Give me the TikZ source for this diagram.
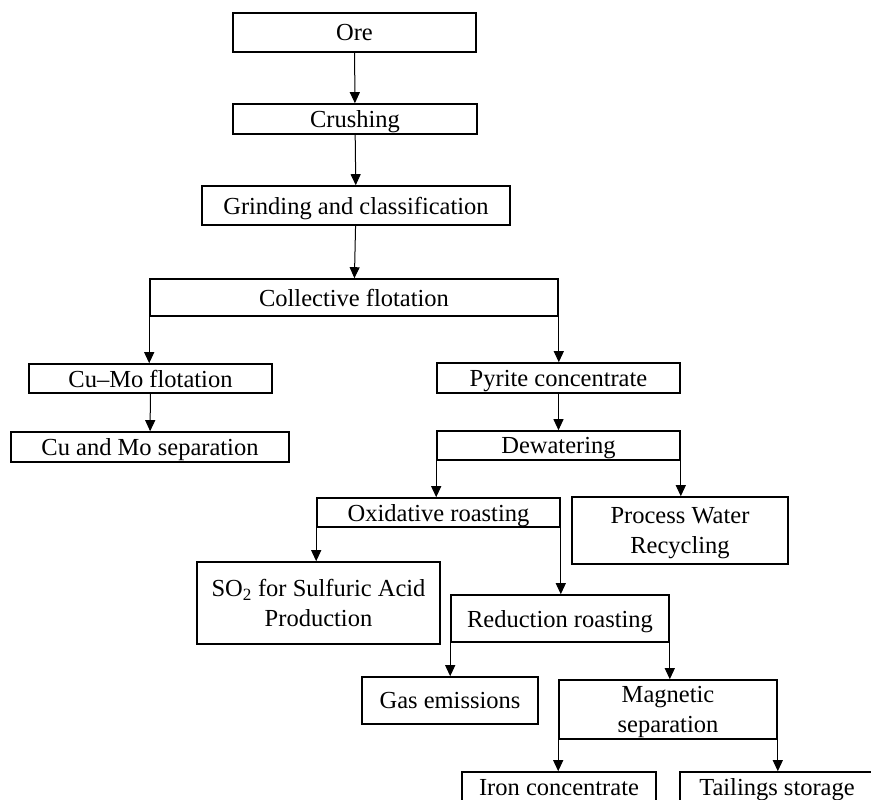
\documentclass[tikz,border=0pt]{standalone}
\usepackage{fontspec}
\setmainfont{Liberation Serif}
\usetikzlibrary{arrows.meta}

\tikzset{box/.style={draw,line width=1.6pt,inner sep=0pt,align=center,text depth=0pt,font=\fontsize{24.5}{30}\selectfont},
flow/.style={line width=1pt,-{Stealth[inset=0pt,length=11pt,width=10pt]}}}

\begin{document}
\begin{tikzpicture}[x=1pt,y=-1pt]
\useasboundingbox(0,0)rectangle(871,800);
\clip(0,0)rectangle(871,800);
\node[box,minimum width=243,minimum height=39](ore)at(354.5,32.5){Ore};
\node[box,minimum width=244,minimum height=30](crush)at(355,119){Crushing};
\node[box,minimum width=308,minimum height=39](grind)at(356,205.5){Grinding and classification};
\node[box,minimum width=408,minimum height=37](coll)at(354,297.5){Collective flotation};
\node[box,minimum width=243,minimum height=29](cumo)at(150.5,378.5){Cu–Mo flotation};
\node[box,minimum width=278,minimum height=30](cusep)at(150,447){Cu and Mo separation};
\node[box,minimum width=243,minimum height=30](pyr)at(558.5,378){Pyrite concentrate};
\node[box,minimum width=243,minimum height=29](dew)at(558.5,445.5){Dewatering};
\node[box,minimum width=243,minimum height=29](oxi)at(438.5,512.5){Oxidative roasting};
\node[box,minimum width=216,minimum height=67](water)at(680,530.5){Process Water\\Recycling};
\node[box,minimum width=243,minimum height=82](so2)at(318.5,603){SO\textsubscript{2} for Sulfuric Acid\\Production};
\node[box,minimum width=218,minimum height=47](red)at(560,618.5){Reduction roasting};
\node[box,minimum width=176,minimum height=47](gas)at(450,700.5){Gas emissions};
\node[box,minimum width=218,minimum height=59](mag)at(668,709.5){Magnetic\\separation};
\node[box,minimum width=194,minimum height=30](iron)at(559,787){Iron concentrate};
\node[box,minimum width=194,minimum height=30](tail)at(777,787){Tailings storage};
\draw[flow](ore)--(crush);
\draw[flow](crush)--(grind);
\draw[flow](grind)--(coll);
\draw[flow](coll.south west)--(coll.south west|-cumo.north);
\draw[flow](coll.south east)--(coll.south east|-pyr.north);
\draw[flow](cumo)--(cusep);
\draw[flow](pyr)--(dew);
\draw[flow](dew.south west)--(dew.south west|-oxi.north);
\draw[flow](dew.south east)--(dew.south east|-water.north);
\draw[flow](oxi.south west)--(oxi.south west|-so2.north);
\draw[flow](oxi.south east)--(oxi.south east|-red.north);
\draw[flow](red.south west)--(red.south west|-gas.north);
\draw[flow](red.south east)--(red.south east|-mag.north);
\draw[flow](mag.south west)--(mag.south west|-iron.north);
\draw[flow](mag.south east)--(mag.south east|-tail.north);
\end{tikzpicture}
\end{document}
